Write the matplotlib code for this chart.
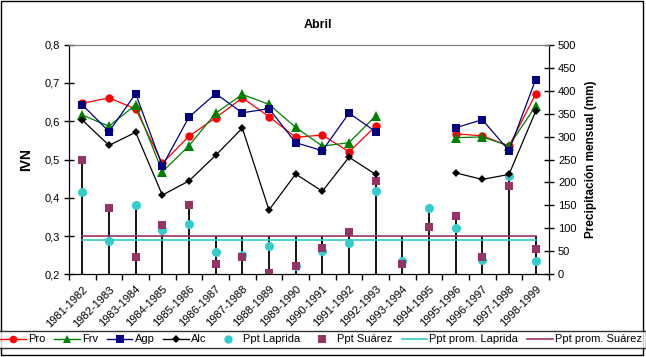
import numpy as np
import matplotlib
matplotlib.use("Agg")
import matplotlib.pyplot as plt
from matplotlib.patches import Rectangle
from matplotlib.lines import Line2D

plt.rcParams['font.family'] = ['Liberation Sans', 'DejaVu Sans']

categories = ["1981-1982", "1982-1983", "1983-1984", "1984-1985", "1985-1986",
              "1986-1987", "1987-1988", "1988-1989", "1989-1990", "1990-1991",
              "1991-1992", "1992-1993", "1993-1994", "1994-1995", "1995-1996",
              "1996-1997", "1997-1998", "1998-1999"]
nan = np.nan
pro = [0.647, 0.661, 0.632, 0.490, 0.561, 0.609, 0.661, 0.612, 0.558, 0.564,
       0.520, 0.587, nan, nan, 0.567, 0.562, 0.535, 0.671]
frv = [0.616, 0.587, 0.643, 0.468, 0.536, 0.621, 0.670, 0.644, 0.584, 0.535,
       0.544, 0.614, nan, nan, 0.557, 0.559, 0.536, 0.640]
agp = [0.643, 0.573, 0.672, 0.483, 0.611, 0.672, 0.622, 0.633, 0.544, 0.523,
       0.621, 0.573, nan, nan, 0.583, 0.604, 0.523, 0.709]
alc = [0.603, 0.537, 0.571, 0.407, 0.444, 0.511, 0.582, 0.368, 0.462, 0.417,
       0.506, 0.461, nan, nan, 0.465, 0.448, 0.461, 0.626]
ppt_laprida = [179, 73, 152, 96, 110, 49, 43, 62, 19, 51,
               69, 181, 28, 145, 101, 32, 213, 30]
ppt_suarez = [249, 145, 38, 107, 152, 23, 38, 3, 19, 58,
              92, 203, 23, 104, 128, 38, 192, 56]
prom_laprida = 74
prom_suarez = 83

W, H = 646, 357
fig = plt.figure(figsize=(W / 100, H / 100), dpi=100)

L, R, T, B = 69, 549, 44.7, 274.3
ax = fig.add_axes([L / W, 1 - B / H, (R - L) / W, (B - T) / H])
ax2 = ax.twinx()

x = np.arange(len(categories))

# precipitation (secondary axis)
pl = np.array(ppt_laprida, float)
ps = np.array(ppt_suarez, float)
top = np.maximum(np.maximum(pl, ps), prom_suarez)
ax2.vlines(x, 0, top, colors='black', linewidth=1.3, zorder=2)
ax2.plot(x, [prom_laprida] * len(x), color='#33CCCC', linewidth=1.2, zorder=3)
ax2.plot(x, [prom_suarez] * len(x), color='#993366', linewidth=1.2, zorder=3)
ax2.plot(x, pl, linestyle='none', marker='o', markersize=6.5, color='#33CCCC',
         markeredgewidth=0, zorder=4)
ax2.plot(x, ps, linestyle='none', marker='s', markersize=6, color='#993366',
         markeredgewidth=0, zorder=5)
ax2.set_ylim(0, 500)
ax2.set_yticks(np.arange(0, 501, 50))
ax2.tick_params(axis='y', direction='inout', length=7, width=1, labelsize=8, pad=3)
ax2.set_ylabel("Precipitación mensual (mm)", fontsize=8.5, fontweight='bold', labelpad=6)

# IVN (primary axis) drawn on top
ax.set_zorder(ax2.get_zorder() + 1)
ax.patch.set_visible(False)
ax.plot(x, pro, color='#FF0000', marker='o', markersize=6, linewidth=0.9, markeredgewidth=0)
ax.plot(x, frv, color='#008000', marker='^', markersize=6.5, linewidth=0.9, markeredgewidth=0)
ax.plot(x, agp, color='#000080', marker='s', markersize=6, linewidth=0.9, markeredgewidth=0)
ax.plot(x, alc, color='#000000', marker='D', markersize=4.5, linewidth=0.9, markeredgewidth=0)
ax.set_ylim(0.2, 0.8)
ax.set_yticks(np.arange(0.2, 0.801, 0.1))
ax.set_yticklabels([f"{v:.1f}".replace('.', ',') for v in np.arange(0.2, 0.801, 0.1)])
ax.tick_params(axis='y', direction='inout', length=7, width=1, labelsize=8, pad=3)
ax.set_ylabel("IVN", fontsize=10, fontweight='bold', labelpad=8)

ax.set_xlim(-0.5, len(x) - 0.5)
ax.set_xticks(x)
ax.set_xticklabels(categories, rotation=45, ha='right', rotation_mode='anchor', fontsize=8)
ax.tick_params(axis='x', which='major', length=0, pad=7)
ax.set_xticks(np.arange(-0.5, len(x), 1), minor=True)
ax.tick_params(axis='x', which='minor', direction='out', length=4, width=1)
ax2.set_xlim(-0.5, len(x) - 0.5)

for a in (ax, ax2):
    a.spines['top'].set_color('#808080')
    a.spines['left'].set_color('black')
    a.spines['right'].set_color('black')
    a.spines['bottom'].set_color('black')

fig.text(318 / W, 1 - 25 / H, "Abril", fontsize=9, fontweight='bold', ha='center', va='center')

handles = [
    Line2D([], [], color='#FF0000', marker='o', markersize=5.5, markeredgewidth=0, linewidth=1),
    Line2D([], [], color='#008000', marker='^', markersize=6, markeredgewidth=0, linewidth=1),
    Line2D([], [], color='#000080', marker='s', markersize=5.5, markeredgewidth=0, linewidth=1),
    Line2D([], [], color='#000000', marker='D', markersize=4.5, markeredgewidth=0, linewidth=1),
    Line2D([], [], color='#33CCCC', marker='o', markersize=6, markeredgewidth=0, linestyle='none'),
    Line2D([], [], color='#993366', marker='s', markersize=5.5, markeredgewidth=0, linestyle='none'),
    Line2D([], [], color='#33CCCC', linewidth=1.2),
    Line2D([], [], color='#993366', linewidth=1.2),
]
labels = ["Pro", "Frv", "Agp", "Alc", "Ppt Laprida", "Ppt Suárez",
          "Ppt prom. Laprida", "Ppt prom. Suárez"]
leg = fig.legend(handles, labels, loc='center', ncol=8,
                 bbox_to_anchor=(321 / W, 1 - 339.5 / H), fontsize=8,
                 frameon=True, fancybox=False, handlelength=2.3, handletextpad=0.2,
                 columnspacing=0.8, borderpad=0.35, borderaxespad=0)
leg.get_frame().set_edgecolor('black')
leg.get_frame().set_linewidth(1)

fig.patches.append(Rectangle((1 / W, 2 / H), 642 / W, 354 / H, transform=fig.transFigure,
                             fill=False, edgecolor='black', linewidth=1))

fig.savefig("out.png", dpi=100)
